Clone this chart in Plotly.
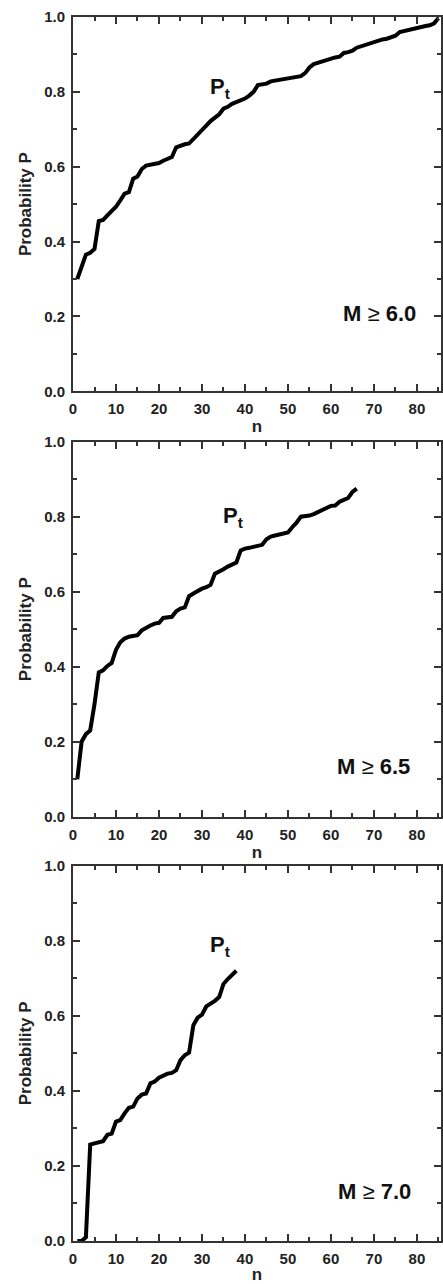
import plotly.graph_objects as go
from plotly.subplots import make_subplots

# ---- data ----
n_60 = list(range(1, 86))
p_60 = [0.30, 0.33, 0.365, 0.37, 0.38, 0.455, 0.458, 0.47, 0.48, 0.493,
        0.51, 0.528, 0.532, 0.568, 0.574, 0.594, 0.603, 0.605, 0.607, 0.61,
        0.616, 0.622, 0.626, 0.652, 0.657, 0.66, 0.662, 0.675, 0.685, 0.70,
        0.71, 0.722, 0.732, 0.74, 0.755, 0.76, 0.768, 0.773, 0.778, 0.782,
        0.79, 0.80, 0.818, 0.82, 0.822, 0.828, 0.83, 0.832, 0.834, 0.836,
        0.838, 0.839, 0.842, 0.85, 0.865, 0.874, 0.878, 0.882, 0.886, 0.889,
        0.892, 0.894, 0.904, 0.906, 0.91, 0.918, 0.922, 0.925, 0.928, 0.932,
        0.936, 0.94, 0.942, 0.945, 0.95, 0.96, 0.963, 0.965, 0.968, 0.972,
        0.974, 0.976, 0.978, 0.983, 0.997]

n_65 = list(range(1, 67))
p_65 = [0.10, 0.20, 0.22, 0.23, 0.30, 0.385, 0.39, 0.402, 0.41, 0.445,
        0.465, 0.475, 0.48, 0.482, 0.484, 0.497, 0.505, 0.51, 0.515, 0.517,
        0.53, 0.532, 0.533, 0.548, 0.555, 0.558, 0.588, 0.595, 0.602, 0.608,
        0.612, 0.618, 0.648, 0.653, 0.66, 0.667, 0.672, 0.678, 0.71, 0.715,
        0.717, 0.72, 0.723, 0.725, 0.74, 0.747, 0.75, 0.753, 0.756, 0.758,
        0.772, 0.784, 0.80, 0.801, 0.803, 0.807, 0.813, 0.82, 0.824, 0.829,
        0.83, 0.84, 0.845, 0.85, 0.866, 0.875]

n_70 = list(range(1, 39))
p_70 = [0.0, 0.0, 0.01, 0.257, 0.26, 0.262, 0.266, 0.283, 0.286, 0.318,
        0.322, 0.34, 0.355, 0.358, 0.38, 0.39, 0.393, 0.42, 0.425, 0.435,
        0.44, 0.446, 0.448, 0.455, 0.482, 0.495, 0.502, 0.575, 0.595, 0.603,
        0.625, 0.632, 0.64, 0.65, 0.685, 0.698, 0.708, 0.72]

panel_series = [(n_60, p_60), (n_65, p_65), (n_70, p_70)]
mag_labels = ["6.0", "6.5", "7.0"]
pt_pos = [(34.3, 0.81), (37.3, 0.80), (34.2, 0.785)]
mag_pos = [(71.3, 0.208), (69.9, 0.133), (70.1, 0.131)]

x_ticks = [0, 10, 20, 30, 40, 50, 60, 70, 80]
y_ticks = [0.0, 0.2, 0.4, 0.6, 0.8, 1.0]
y_ticktext = ["0.0", "0.2", "0.4", "0.6", "0.8", "1.0"]

FONT = "Liberation Sans, Arial, Helvetica, sans-serif"
AX = "#333333"

fig = make_subplots(rows=3, cols=1)
domains = [[0.6942, 1.0], [0.3467, 0.653], [0.0, 0.3066]]

for i, (xs, ys) in enumerate(panel_series):
    r = i + 1
    fig.add_trace(go.Scatter(x=xs, y=ys, mode="lines",
                             line=dict(color="black", width=4),
                             showlegend=False, hoverinfo="skip"),
                  row=r, col=1)
    fig.update_xaxes(row=r, col=1, range=[0, 85.6], tickvals=x_ticks,
                     ticks="inside", ticklen=7, tickwidth=1.5, tickcolor=AX,
                     minor=dict(dtick=5, tick0=0, ticks="inside", ticklen=4,
                                tickwidth=1.5, tickcolor=AX),
                     showline=True, linewidth=2, linecolor=AX, mirror="ticks",
                     showgrid=False, zeroline=False,
                     tickfont=dict(family=FONT, size=15, color="#222", weight="bold"),
                     ticklabelstandoff=3,
                     title=dict(text="<b>n</b>", standoff=2,
                                font=dict(family=FONT, size=17, color="#222")))
    fig.update_yaxes(row=r, col=1, range=[0, 1.0], tickvals=y_ticks, ticktext=y_ticktext,
                     domain=domains[i],
                     ticks="inside", ticklen=7, tickwidth=1.5, tickcolor=AX,
                     minor=dict(dtick=0.1, tick0=0, ticks="inside", ticklen=4,
                                tickwidth=1.5, tickcolor=AX),
                     showline=True, linewidth=2, linecolor=AX, mirror="ticks",
                     showgrid=False, zeroline=False,
                     tickfont=dict(family=FONT, size=15, color="#222", weight="bold"),
                     ticklabelstandoff=3,
                     title=dict(text="<b>Probability P</b>", standoff=8,
                                font=dict(family=FONT, size=17, color="#222")))
    xref = "x" if r == 1 else f"x{r}"
    yref = "y" if r == 1 else f"y{r}"
    fig.add_annotation(x=pt_pos[i][0], y=pt_pos[i][1], xref=xref, yref=yref,
                       text="<b>P<sub>t</sub></b>", showarrow=False,
                       font=dict(family=FONT, size=22, color="#111"))
    fig.add_annotation(x=mag_pos[i][0], y=mag_pos[i][1], xref=xref, yref=yref,
                       text=f"<b>M</b> ≥ <b>{mag_labels[i]}</b>", showarrow=False,
                       font=dict(family=FONT, size=22, color="#111"))

fig.update_layout(width=443, height=1284,
                  margin=dict(l=73, r=0, t=17, b=43),
                  paper_bgcolor="white", plot_bgcolor="white")

fig.write_html("out.html", config={"displayModeBar": False},
               post_script="document.body.style.margin='0';document.body.style.overflow='hidden';")
